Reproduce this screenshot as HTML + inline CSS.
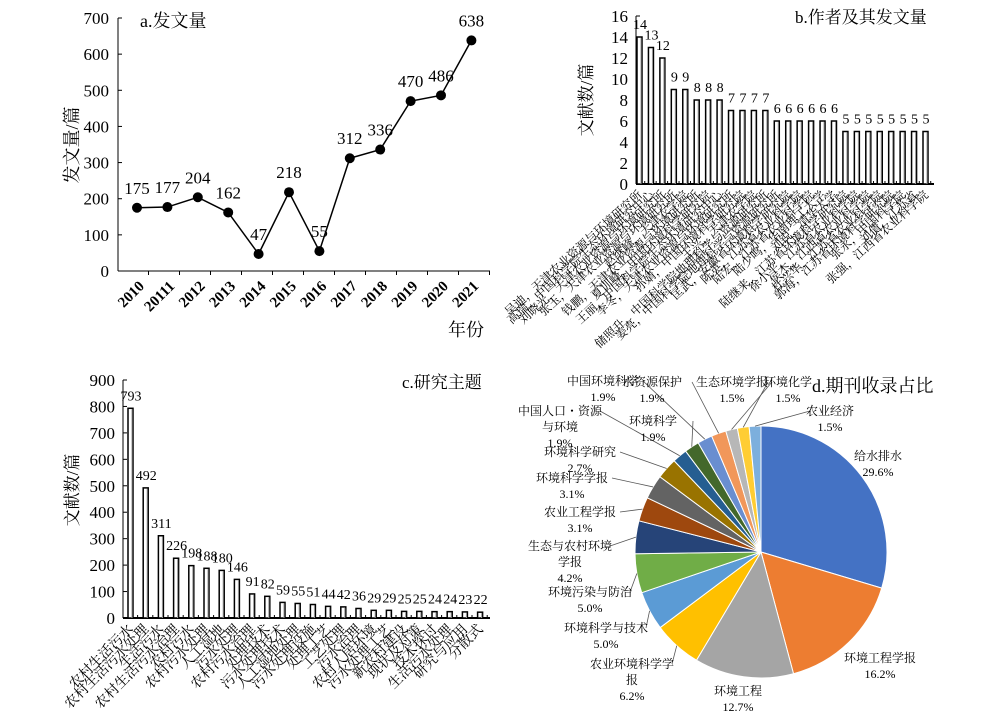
<!DOCTYPE html>
<html><head><meta charset="utf-8"><style>
body{margin:0;background:#fff}
svg text{font-family:"Liberation Serif","Noto Serif CJK SC","Noto Sans CJK SC",serif;fill:#000}
</style></head><body>
<svg id="s" width="1000" height="715" viewBox="0 0 1000 715">
<g id="pa"></g>
<g id="pb"></g>
<g id="pc"></g>
<g id="pd"></g>
</svg>
<script>
const aYears=["2010","20111","2012","2013","2014","2015","2016","2017","2018","2019","2020","2021"];
const aVals=[175,177,204,162,47,218,55,312,336,470,486,638];
const aTicks=[0,100,200,300,400,500,600,700];
const bAuthors=["吴迪，天津农业资源与环境研究所","高瑞，中国科学院生态环境研究中心","刘晓光，天津农业资源与环境研究所","张玉，天津农业资源与环境研究所","赵继峰，天津农学院","钱鹏，天津农业资源与环境研究所","夏训峰，中国环境科学研究院","王丽，中国科学院生态环境研究中心","李冬，天津农业资源与环境研究所","孙婧，中国环境科学研究院","王兴，天津农学院","储照升，中国科学院地理科学与资源研究所","姜亮，中国科学院地理科学与资源研究所","匡武，安徽省环境科学研究院","陈英，江苏省农业科学院","陆宏，江苏省农业科学院","陆少鸣，华南理工大学","刘锐，清华大学","陆继来，江苏省环境科学研究院","徐小平，江苏省农业科学院","侯杰，江西省农业科学院","杜兴华，江苏省农业科学院","郭海，江苏省环境科学研究院","张永，中国科学院","刘倩，江苏省","张强，江西省农业科学院"];
const bVals=[14,13,12,9,9,8,8,8,7,7,7,7,6,6,6,6,6,6,5,5,5,5,5,5,5,5];
const bTicks=[0,2,4,6,8,10,12,14,16];
const cTopics=["农村生活污水","农村生活污水处理","生活污水","农村生活污水治理","农村污水","农村污水处理","人工湿地","污水处理","农村污水治理","处理技术","污水处理技术","人工湿地处理","污水处理设施","处理工艺","工艺处理","污水治理","农村人居环境","污水处理工艺","新农村建设","现状及对策","技术探讨","生活污水处理","研究与应用","分散式"];
const cVals=[793,492,311,226,198,188,180,146,91,82,59,55,51,44,42,36,29,29,25,25,24,24,23,22];
const cTicks=[0,100,200,300,400,500,600,700,800,900];
const dNames=["给水排水","环境工程学报","环境工程","农业环境科学学报","环境科学与技术","环境污染与防治","生态与农村环境学报","农业工程学报","环境科学学报","环境科学研究","中国人口·资源与环境","环境科学","中国环境科学","水资源保护","生态环境学报","环境化学","农业经济"];
const dVals=[29.6,16.2,12.7,6.2,5.0,5.0,4.2,3.1,3.1,2.7,1.9,1.9,1.9,1.9,1.5,1.5,1.5];
const dColors=["#4472C4","#ED7D31","#A5A5A5","#FFC000","#5B9BD5","#70AD47","#264478","#9E480E","#636363","#997300","#255E91","#43682B","#698ED0","#F1975A","#B7B7B7","#FFCD33","#7CAFDD"];
const dLabelPos=[[878,460],[880,662],[738,695],[632,668],[606,632],[590,596],[570,550],[580,516],[572,482],[580,456],[560,415],[653,425],[603,385],[652,386],[732,386],[788,386],[830,415]];
const dLabelLines=[
 [["给水排水"],["29.6%"]],[["环境工程学报"],["16.2%"]],[["环境工程"],["12.7%"]],[["农业环境科学学"],["报"],["6.2%"]],[["环境科学与技术"],["5.0%"]],[["环境污染与防治"],["5.0%"]],[["生态与农村环境"],["学报"],["4.2%"]],[["农业工程学报"],["3.1%"]],[["环境科学学报"],["3.1%"]],[["环境科学研究"],["2.7%"]],[["中国人口・资源"],["与环境"],["1.9%"]],[["环境科学"],["1.9%"]],[["中国环境科学"],["1.9%"]],[["水资源保护"],["1.9%"]],[["生态环境学报"],["1.5%"]],[["环境化学"],["1.5%"]],[["农业经济"],["1.5%"]]];
const NS="http://www.w3.org/2000/svg";
function mk(parent,tag,attrs,txt){const e=document.createElementNS(NS,tag);for(const k in attrs)e.setAttribute(k,attrs[k]);if(txt!==undefined)e.textContent=txt;parent.appendChild(e);return e;}

// Panel A
(function(){
 const g=document.getElementById('pa');
 const x0=118,x1=490,yb=271,yt=18,max=700;
 const y=v=>yb-(v/max)*(yb-yt);
 const x=i=>137+i*30.4;
 let e=mk(g,'line',{x1:x0,y1:yt,x2:x0,y2:yb,stroke:'#000'});
 e=mk(g,'line',{x1:x0,y1:yb,x2:x1,y2:yb,stroke:'#000'});
 aTicks.forEach(t=>{mk(g,'line',{x1:x0,y1:y(t),x2:x0+4,y2:y(t),stroke:'#000'});
  e=mk(g,'text',{x:x0-9,y:y(t)+6,'text-anchor':'end','font-size':17},t);});
 aYears.forEach((yr,i)=>{const xi=x0+(i+0.5)*31;mk(g,'line',{x1:xi+15,y1:yb,x2:xi+15,y2:yb+4,stroke:'#000'});
  e=mk(g,'text',{x:x(i)+8,y:yb+16,'text-anchor':'end','font-size':15,'font-weight':'bold',transform:`rotate(-45 ${x(i)+8} ${yb+16})`},yr);});
 e=mk(g,'polyline',{points:aVals.map((v,i)=>x(i)+','+y(v)).join(' '),fill:'none',stroke:'#000','stroke-width':1.5});
 aVals.forEach((v,i)=>{e=mk(g,'circle',{cx:x(i),cy:y(v),r:5,fill:'#000'});
  e=mk(g,'text',{x:x(i),y:y(v)-14,'text-anchor':'middle','font-size':17},v);});
 e=mk(g,'text',{x:140,y:27,'font-size':18},'a.发文量');
 e=mk(g,'text',{x:78,y:145,'font-size':18,'text-anchor':'middle',transform:'rotate(-90 78 145)'},'发文量/篇');
 e=mk(g,'text',{x:448,y:336,'font-size':18},'年份');
})();

function barPanel(gid,cats,vals,ticks,o){
 const g=document.getElementById(gid);
 const y=v=>o.yb-(v/o.max)*(o.yb-o.yt);
 const x=i=>o.bx+i*o.sp;
 let e=mk(g,'line',{x1:o.x0,y1:o.yt,x2:o.x0,y2:o.yb,stroke:'#000'});
 e=mk(g,'line',{x1:o.x0,y1:o.yb,x2:o.x1,y2:o.yb,stroke:'#000','stroke-width':2});
 ticks.forEach(t=>{mk(g,'line',{x1:o.x0,y1:y(t),x2:o.x0+4,y2:y(t),stroke:'#000'});
  e=mk(g,'text',{x:o.x0-8,y:y(t)+6,'text-anchor':'end','font-size':17},t);});
 vals.forEach((v,i)=>{
  mk(g,'line',{x1:x(i)+o.sp/2+2,y1:o.yb,x2:x(i)+o.sp/2+2,y2:o.yb-3,stroke:'#000'});
  e=mk(g,'rect',{x:x(i),y:y(v),width:5,height:o.yb-y(v),fill:'#fff',stroke:'#000','stroke-width':1.5});
  mk(g,'line',{x1:x(i)+4,y1:y(v)+1,x2:x(i)+4,y2:o.yb,stroke:'#999','stroke-width':1});
  e=mk(g,'text',{x:x(i)+3,y:y(v)-8,'text-anchor':'middle','font-size':o.fs},v);
  const lx=x(i)+6,ly=o.yb+12;
  e=mk(g,'text',{x:lx,y:ly,'text-anchor':'end','font-size':o.lfs,fill:'#333',transform:`rotate(${o.rot} ${lx} ${ly})`},cats[i]);
 });
}
barPanel('pb',bAuthors,bVals,bTicks,{x0:636,x1:934,yb:184,yt:16,max:16,bx:637,sp:11.44,fs:14,lfs:12,rot:-42});
barPanel('pc',cTopics,cVals,cTicks,{x0:123,x1:490,yb:618,yt:380,max:900,bx:128,sp:15.2,fs:14,lfs:14,rot:-45});
(function(){
 const b=document.getElementById('pb'),c=document.getElementById('pc');let e;
 e=mk(b,'text',{x:795,y:23,'font-size':17},'b.作者及其发文量');
 e=mk(b,'text',{x:592,y:100,'font-size':17,fill:'#555','text-anchor':'middle',transform:'rotate(-90 592 100)'},'文献数/篇');
 e=mk(c,'text',{x:402,y:388,'font-size':17},'c.研究主题');
 e=mk(c,'text',{x:78,y:490,'font-size':17,fill:'#555','text-anchor':'middle',transform:'rotate(-90 78 490)'},'文献数/篇');
})();

// Panel D pie
(function(){
 const g=document.getElementById('pd');
 const cx=761,cy=552,r=126;
 const tot=dVals.reduce((a,b)=>a+b,0);
 let a=-Math.PI/2,e;
 dVals.forEach((v,i)=>{
  const a2=a+v/tot*2*Math.PI;
  const p1=[cx+r*Math.cos(a),cy+r*Math.sin(a)],p2=[cx+r*Math.cos(a2),cy+r*Math.sin(a2)];
  const large=(a2-a)>Math.PI?1:0;
  e=mk(g,'path',{d:`M${cx},${cy}L${p1[0]},${p1[1]}A${r},${r} 0 ${large} 1 ${p2[0]},${p2[1]}Z`,fill:dColors[i],stroke:'#fff','stroke-width':1});
  
  const mid=(a+a2)/2,[lx,ly]=dLabelPos[i];
  if(i>=3){mk(g,'polyline',{points:`${cx+r*Math.cos(mid)},${cy+r*Math.sin(mid)} ${lx+(lx<cx?40:-20)},${ly-4}`,fill:'none',stroke:'#555','stroke-width':0.8});}
  const lines=dLabelLines[i];
  lines.forEach((ln,k)=>{e=mk(g,'text',{x:lx,y:ly+k*16,'text-anchor':'middle','font-size':12,fill:'#333'},ln[0]);});
  a=a2;
 });
 e=mk(g,'text',{x:812,y:392,'font-size':18},'d.期刊收录占比');
})();
</script>
</body></html>
